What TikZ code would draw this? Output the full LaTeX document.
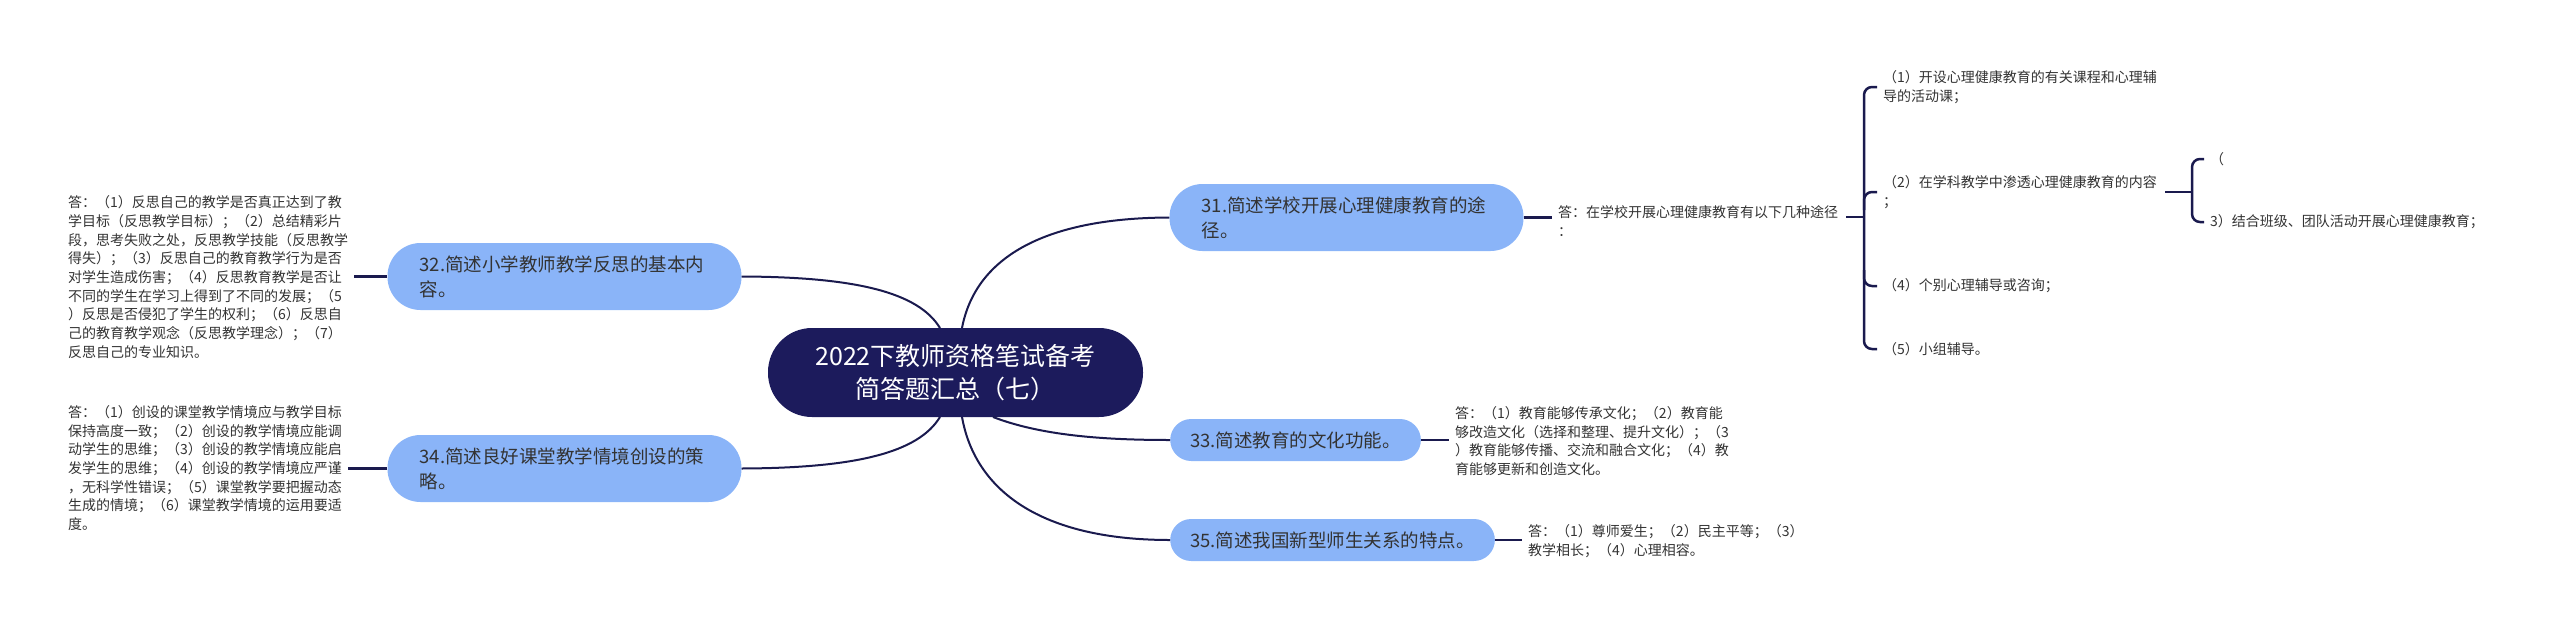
\documentclass[tikz,border=0pt]{standalone}
\usepackage{fontspec}
\setmainfont{Noto Sans CJK SC}
\definecolor{navy}{HTML}{1C1B5C}
\definecolor{nodeblue}{HTML}{8AB4F8}
\definecolor{linecol}{HTML}{1A1A4E}
\definecolor{txt}{HTML}{333333}
\tikzset{
 conn/.style={draw=linecol, line width=2pt},
 stub/.style={draw=linecol, line width=2.5pt},
 brk/.style={draw=linecol, line width=2.5pt, rounded corners=8pt},
 topic/.style={fill=navy, text=white, rounded corners=44pt, minimum width=375pt, minimum height=89pt, align=center, inner sep=0pt, font=\fontsize{25}{33}\selectfont},
 qlong/.style={fill=nodeblue, text=txt, rounded corners=33pt, minimum height=67pt, text width=290pt, inner xsep=32pt, inner ysep=0pt, align=left, font=\fontsize{18.5}{25}\selectfont},
 qshort/.style={fill=nodeblue, text=txt, rounded corners=21pt, minimum height=42pt, inner xsep=20pt, inner ysep=0pt, anchor=west, font=\fontsize{18.5}{25}\selectfont},
 ans/.style={text=txt, align=left, inner xsep=6pt, inner ysep=0pt, anchor=west, font=\fontsize{14}{18.7}\selectfont},
}
\begin{document}
\begin{tikzpicture}[x=1pt,y=-1pt]
\useasboundingbox (0,0) rectangle (2560,627);

% central topic
\node[topic] (c) at (955.5,372.5) {2022下教师资格笔试备考\\简答题汇总（七）};

% questions
\node[qlong] (q32) at (564.5,276.5) {32.简述小学教师教学反思的基本内\\容。};
\node[qlong] (q34) at (564.5,468.5) {34.简述良好课堂教学情境创设的策\\略。};
\node[qlong] (q31) at (1346.5,217.5) {31.简述学校开展心理健康教育的途\\径。};
\node[qshort] (q33) at (1170,440) {33.简述教育的文化功能。};
\node[qshort] (q35) at (1170,540) {35.简述我国新型师生关系的特点。};

% answers
\node[ans] (a32) at (62,277) {答：（1）反思自己的教学是否真正达到了教\\学目标（反思教学目标）；（2）总结精彩片\\段，思考失败之处，反思教学技能（反思教学\\得失）；（3）反思自己的教育教学行为是否\\对学生造成伤害；（4）反思教育教学是否让\\不同的学生在学习上得到了不同的发展；（5\\）反思是否侵犯了学生的权利；（6）反思自\\己的教育教学观念（反思教学理念）；（7）\\反思自己的专业知识。};
\node[ans] (a34) at (62,468) {答：（1）创设的课堂教学情境应与教学目标\\保持高度一致；（2）创设的教学情境应能调\\动学生的思维；（3）创设的教学情境应能启\\发学生的思维；（4）创设的教学情境应严谨\\，无科学性错误；（5）课堂教学要把握动态\\生成的情境；（6）课堂教学情境的运用要适\\度。};
\node[ans] (a31) at (1552,221) {答：在学校开展心理健康教育有以下几种途径\\：};
\node[ans] (a33) at (1449,441) {答：（1）教育能够传承文化；（2）教育能\\够改造文化（选择和整理、提升文化）；（3\\）教育能够传播、交流和融合文化；（4）教\\育能够更新和创造文化。};
\node[ans] (a35) at (1522,541) {答：（1）尊师爱生；（2）民主平等；（3）\\教学相长；（4）心理相容。};

% bracket items
\coordinate (b1) at (1864,217);
\node[ans] (i1) at (1877,87) {（1）开设心理健康教育的有关课程和心理辅\\导的活动课；};
\node[ans] (i2) at (1877,192) {（2）在学科教学中渗透心理健康教育的内容\\；};
\node[ans] (i4) at (1877,286) {（4）个别心理辅导或咨询；};
\node[ans] (i5) at (1877,349) {（5）小组辅导。};
\coordinate (b2) at (2192,192);
\node[ans] (j1) at (2204,159) {（};
\node[ans] (j3) at (2204,222) {3）结合班级、团队活动开展心理健康教育；};

% curved connectors from the topic
\draw[conn] (940,328) .. controls (918,292) and (855,277) .. (q32.east);
\draw[conn] (940,417) .. controls (918,453) and (855,468) .. (q34.east);
\draw[conn] (962,328) .. controls (975,260) and (1040,218) .. (q31.west);
\draw[conn] (993,417) .. controls (1040,435) and (1100,440) .. (q33.west);
\draw[conn] (962,417) .. controls (975,490) and (1040,540) .. (q35.west);

% stubs question -> answer
\draw[stub] (q32.west) -- (a32.east |- q32.west);
\draw[stub] (q34.west) -- (a34.east |- q34.west);
\draw[stub] (q31.east) -- (a31.west |- q31.east);
\draw[stub] (q33.east) -- (a33.west |- q33.east);
\draw[stub] (q35.east) -- (a35.west |- q35.east);

% bracket 1
\draw[stub] ([xshift=2pt]a31.east |- b1) -- (b1);
\draw[brk] (i1.west) -- (b1 |- i1.west) -- (b1 |- i5.west) -- (i5.west);
\draw[brk] (b1 |- 0,210) -- (b1 |- i2.west) -- (i2.west);
\draw[brk] (b1 |- 0,270) -- (b1 |- i4.west) -- (i4.west);

% bracket 2
\draw[stub] ([xshift=2pt]i2.east |- b2) -- (b2);
\draw[brk] (j1.west) -- (b2 |- j1.west) -- (b2 |- j3.west) -- (j3.west);
\end{tikzpicture}
\end{document}
